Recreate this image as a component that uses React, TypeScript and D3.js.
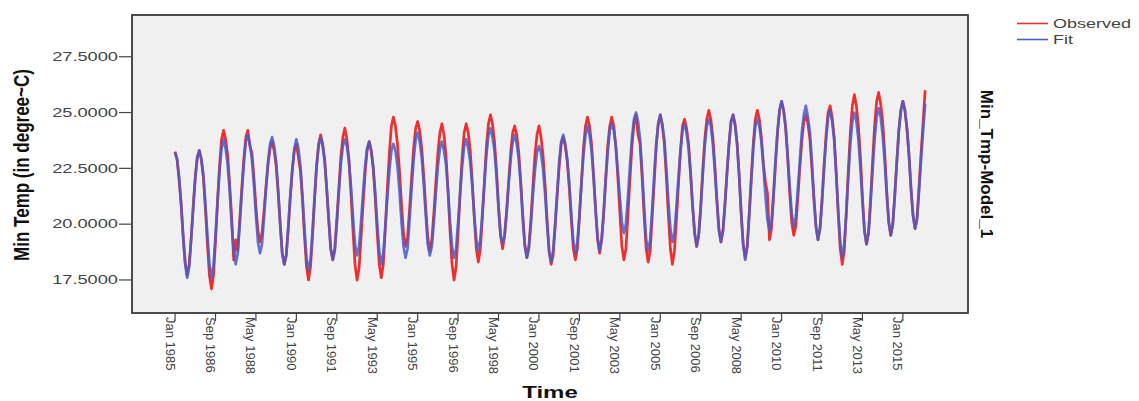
import React from "react";
import * as d3 from "d3";

// Monthly series, Jan 1985 .. Dec 2015 (one row per year)
const startYear = 1985;
const observed: number[] = [
  23.25, 22.9, 22.0, 20.9, 19.5, 18.3, 17.7, 18.2, 19.4, 20.8, 22.1, 23.0,
  23.3, 22.9, 22.1, 20.7, 19.1, 17.7, 17.1, 17.7, 19.2, 21.0, 22.6, 23.8,
  24.2, 23.8, 23.1, 21.8, 20.3, 18.4, 19.3, 18.8, 20.2, 21.6, 22.9, 23.9,
  24.2, 23.5, 23.2, 22.1, 20.8, 19.7, 19.2, 19.6, 20.6, 21.7, 22.7, 23.4,
  23.7, 23.3, 22.6, 21.4, 20.0, 18.7, 18.2, 18.6, 19.8, 21.2, 22.4, 23.3,
  23.6, 23.0, 22.4, 21.1, 19.5, 18.1, 17.5, 18.1, 19.5, 21.1, 22.6, 23.6,
  24.0, 23.6, 22.9, 21.6, 20.2, 18.9, 18.4, 18.9, 20.2, 21.6, 23.0, 23.9,
  24.3, 23.8, 22.9, 21.4, 19.7, 18.2, 17.5, 18.0, 19.4, 20.9, 22.3, 23.3,
  23.7, 23.3, 22.5, 21.2, 19.6, 18.2, 17.6, 18.2, 19.8, 21.6, 23.2, 24.4,
  24.8, 24.4, 23.6, 22.4, 20.9, 19.6, 19.0, 19.4, 20.7, 22.1, 23.4, 24.3,
  24.6, 24.2, 23.4, 22.2, 20.7, 19.4, 18.8, 19.3, 20.5, 21.9, 23.2, 24.1,
  24.5, 24.0, 23.1, 21.5, 19.7, 18.2, 17.5, 18.1, 19.6, 21.4, 23.0, 24.1,
  24.5, 24.1, 23.3, 21.9, 20.3, 18.9, 18.3, 18.9, 20.3, 21.9, 23.5, 24.5,
  24.9, 24.5, 23.7, 22.4, 20.8, 19.5, 18.9, 19.5, 20.6, 21.9, 23.2, 24.1,
  24.4, 24.0, 23.2, 21.9, 20.4, 19.1, 18.5, 19.0, 20.2, 21.7, 23.1, 24.0,
  24.4, 23.9, 23.1, 21.8, 20.2, 18.8, 18.2, 18.6, 19.9, 21.3, 22.6, 23.6,
  23.9, 23.5, 22.8, 21.6, 20.2, 18.9, 18.4, 18.9, 20.3, 21.9, 23.4, 24.4,
  24.8, 24.4, 23.6, 22.2, 20.7, 19.3, 18.7, 19.3, 20.5, 22.1, 23.5, 24.4,
  24.8, 24.4, 23.5, 22.1, 20.5, 19.0, 18.4, 18.9, 20.4, 22.0, 23.5, 24.5,
  24.9, 24.0, 23.6, 22.1, 20.4, 18.9, 18.3, 18.8, 20.3, 21.9, 23.5, 24.5,
  24.9, 24.4, 23.6, 22.1, 20.4, 18.9, 18.2, 18.8, 20.2, 21.8, 23.3, 24.4,
  24.7, 24.3, 23.6, 22.3, 20.8, 19.6, 19.0, 19.5, 20.8, 22.4, 23.8, 24.7,
  25.1, 24.7, 23.9, 22.6, 21.1, 19.8, 19.2, 19.7, 20.9, 22.3, 23.6, 24.6,
  24.9, 24.5, 23.6, 22.2, 20.5, 19.1, 18.5, 19.0, 20.5, 22.1, 23.6, 24.7,
  25.1, 24.7, 23.9, 22.7, 21.9, 21.4, 19.3, 19.8, 21.2, 22.7, 24.1, 25.1,
  25.5, 25.1, 24.3, 23.0, 21.4, 20.1, 19.5, 19.9, 21.1, 22.5, 23.7, 24.6,
  24.9, 24.5, 23.8, 22.5, 21.1, 19.9, 19.3, 19.8, 21.1, 22.6, 24.0, 25.0,
  25.3, 24.8, 23.9, 22.3, 20.5, 18.9, 18.2, 18.8, 20.5, 22.4, 24.1, 25.3,
  25.8, 25.3, 24.4, 23.0, 21.2, 19.7, 19.1, 19.6, 21.1, 22.8, 24.4, 25.5,
  25.9, 25.4, 24.6, 23.2, 21.5, 20.1, 19.5, 20.0, 21.3, 22.8, 24.2, 25.1,
  25.5, 25.1, 24.3, 23.1, 21.6, 20.4, 19.8, 20.3, 21.7, 23.2, 24.6, 26.0,
];
const fit: number[] = [
  23.2, 22.9, 22.1, 20.9, 19.4, 18.2, 17.6, 18.1, 19.4, 20.8, 22.1, 23.0,
  23.3, 22.9, 22.2, 20.9, 19.5, 18.2, 17.6, 18.1, 19.5, 21.0, 22.4, 23.4,
  23.8, 23.4, 22.7, 21.5, 20.0, 18.8, 18.2, 18.7, 20.0, 21.4, 22.7, 23.7,
  24.0, 23.6, 22.9, 21.8, 20.4, 19.2, 18.7, 19.1, 20.3, 21.6, 22.8, 23.6,
  23.9, 23.5, 22.8, 21.5, 20.0, 18.7, 18.2, 18.6, 19.9, 21.3, 22.5, 23.4,
  23.8, 23.4, 22.6, 21.3, 19.8, 18.5, 17.9, 18.4, 19.7, 21.2, 22.6, 23.5,
  23.9, 23.5, 22.8, 21.6, 20.2, 18.9, 18.4, 18.8, 20.0, 21.4, 22.7, 23.5,
  23.8, 23.5, 22.8, 21.7, 20.3, 19.1, 18.6, 19.0, 20.1, 21.4, 22.6, 23.4,
  23.7, 23.3, 22.6, 21.4, 20.0, 18.8, 18.2, 18.7, 19.9, 21.2, 22.4, 23.3,
  23.6, 23.3, 22.6, 21.5, 20.1, 19.0, 18.5, 18.9, 20.2, 21.6, 22.9, 23.8,
  24.1, 23.7, 23.0, 21.8, 20.4, 19.1, 18.6, 19.0, 20.1, 21.4, 22.6, 23.4,
  23.7, 23.3, 22.7, 21.5, 20.1, 19.0, 18.5, 18.9, 20.1, 21.4, 22.6, 23.5,
  23.8, 23.4, 22.8, 21.7, 20.4, 19.3, 18.8, 19.3, 20.5, 21.8, 23.1, 24.0,
  24.3, 23.9, 23.3, 22.1, 20.7, 19.5, 19.1, 19.5, 20.5, 21.8, 22.9, 23.7,
  24.0, 23.6, 22.9, 21.7, 20.2, 19.0, 18.5, 18.9, 20.0, 21.3, 22.4, 23.2,
  23.5, 23.2, 22.5, 21.4, 20.0, 18.8, 18.3, 18.8, 20.0, 21.4, 22.8, 23.7,
  24.0, 23.6, 22.9, 21.8, 20.4, 19.2, 18.7, 19.2, 20.4, 21.8, 23.1, 24.0,
  24.4, 24.0, 23.3, 22.1, 20.6, 19.4, 18.8, 19.3, 20.5, 21.9, 23.2, 24.2,
  24.5, 24.2, 23.5, 22.4, 21.2, 20.1, 19.6, 20.0, 21.2, 22.6, 23.9, 24.7,
  25.0, 24.6, 23.8, 22.4, 20.8, 19.3, 18.8, 19.3, 20.7, 22.2, 23.6, 24.5,
  24.9, 24.5, 23.8, 22.5, 21.0, 19.8, 19.2, 19.6, 20.8, 22.1, 23.3, 24.2,
  24.5, 24.1, 23.4, 22.2, 20.8, 19.6, 19.0, 19.5, 20.7, 22.2, 23.5, 24.4,
  24.7, 24.4, 23.6, 22.4, 21.0, 19.7, 19.2, 19.7, 20.9, 22.3, 23.6, 24.6,
  24.9, 24.4, 23.6, 22.2, 20.5, 19.1, 18.4, 19.0, 20.4, 21.9, 23.4, 24.4,
  24.7, 24.4, 23.7, 22.6, 21.3, 20.2, 19.7, 20.1, 21.4, 22.9, 24.2, 25.1,
  25.5, 25.1, 24.4, 23.1, 21.7, 20.5, 19.9, 20.3, 21.5, 22.8, 24.1, 24.9,
  25.3, 24.8, 24.1, 22.8, 21.2, 19.9, 19.3, 19.8, 21.0, 22.5, 23.8, 24.8,
  25.1, 24.6, 23.8, 22.3, 20.6, 19.2, 18.5, 19.1, 20.5, 22.1, 23.6, 24.6,
  25.0, 24.6, 23.8, 22.5, 21.0, 19.7, 19.1, 19.6, 20.9, 22.4, 23.8, 24.8,
  25.2, 24.8, 24.0, 22.8, 21.3, 20.1, 19.5, 20.0, 21.3, 22.8, 24.2, 25.1,
  25.5, 25.1, 24.3, 23.1, 21.6, 20.4, 19.8, 20.2, 21.5, 22.9, 24.2, 25.4,
];
const xTickLabels = [
  "Jan 1985", "Sep 1986", "May 1988", "Jan 1990", "Sep 1991", "May 1993",
  "Jan 1995", "Sep 1996", "May 1998", "Jan 2000", "Sep 2001", "May 2003",
  "Jan 2005", "Sep 2006", "May 2008", "Jan 2010", "Sep 2011", "May 2013",
  "Jan 2015",
];
const yTicks = [17.5, 20.0, 22.5, 25.0, 27.5];
const seriesNames = ["Observed", "Fit"];

const W = 1139;
const H = 401;
const plot = { left: 132, right: 968, top: 15, bottom: 313 };
const FONT = "Arial, 'Liberation Sans', sans-serif";
const RED = "#f22d2d";
const BLUE = "#4a5cc8";

const parseLabel = d3.timeParse("%b %Y");
const monthIndex = (label: string) => {
  const d = parseLabel(label)!;
  return (d.getFullYear() - startYear) * 12 + d.getMonth();
};

export default function App() {
  const x = d3.scaleLinear().domain([-21.3, 392.2]).range([plot.left, plot.right]);
  const y = d3.scaleLinear().domain([16.02, 29.37]).range([plot.bottom, plot.top]);
  const line = d3
    .line<number>()
    .x((_, i) => x(i))
    .y((v) => y(v));
  const fmt = d3.format(".4f");
  const sx = 1.52;

  return (
    <svg
      width={W}
      height={H}
      style={{ position: "absolute", left: 0, top: 0, background: "#fff" }}
      fontFamily={FONT}
    >
      <rect
        x={plot.left}
        y={plot.top}
        width={plot.right - plot.left}
        height={plot.bottom - plot.top}
        fill="#f0f0f0"
      />
      <path d={line(observed) || ""} fill="none" stroke={RED} strokeWidth={2.7} strokeLinejoin="round" />
      <path d={line(fit) || ""} fill="none" stroke={BLUE} strokeWidth={2.7} strokeOpacity={0.85} strokeLinejoin="round" />
      <rect
        x={plot.left}
        y={plot.top}
        width={plot.right - plot.left}
        height={plot.bottom - plot.top}
        fill="none"
        stroke="#3a3a3a"
        strokeWidth={1.8}
      />
      {/* Y axis */}
      {yTicks.map((t) => (
        <g key={t}>
          <line x1={119} x2={plot.left} y1={y(t)} y2={y(t)} stroke="#444" strokeWidth={1.2} />
          <text
            transform={`translate(118,${y(t)}) scale(${sx},1)`}
            textAnchor="end"
            dominantBaseline="central"
            fontSize={12}
            fill="#444"
          >
            {fmt(t)}
          </text>
        </g>
      ))}
      {/* X axis */}
      {xTickLabels.map((lab) => {
        const px = x(monthIndex(lab));
        return (
          <g key={lab}>
            <line x1={px} x2={px} y1={plot.bottom} y2={plot.bottom + 8} stroke="#444" strokeWidth={1.2} />
            <text
              transform={`translate(${px - 9.5},${plot.bottom + 4}) rotate(90)`}
              fontSize={13}
              fill="#444"
            >
              {lab}
            </text>
          </g>
        );
      })}
      {/* Titles */}
      <text
        transform={`translate(550,398) scale(1.5,1)`}
        textAnchor="middle"
        fontSize={16}
        fontWeight="bold"
        fill="#111"
      >
        Time
      </text>
      <text
        transform={`translate(29,165) scale(1.25,1) rotate(-90)`}
        textAnchor="middle"
        fontSize={17}
        fontWeight="bold"
        fill="#111"
      >
        Min Temp (in degree~C)
      </text>
      <text
        transform={`translate(981,164) rotate(90)`}
        textAnchor="middle"
        fontSize={17}
        fontWeight="bold"
        fill="#111"
      >
        Min_Tmp-Model_1
      </text>
      {/* Legend */}
      {seriesNames.map((name, i) => (
        <g key={name}>
          <line
            x1={1017}
            x2={1048}
            y1={23.5 + i * 16}
            y2={23.5 + i * 16}
            stroke={i === 0 ? RED : BLUE}
            strokeWidth={1.6}
          />
          <text
            transform={`translate(1053,${24 + i * 16}) scale(1.5,1)`}
            dominantBaseline="central"
            fontSize={12}
            fill="#444"
          >
            {name}
          </text>
        </g>
      ))}
    </svg>
  );
}
